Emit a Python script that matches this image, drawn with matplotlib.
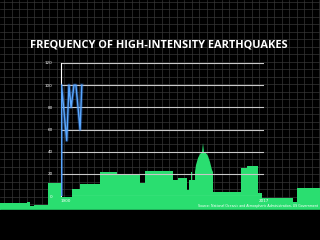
import numpy as np
import matplotlib
matplotlib.use("Agg")
from matplotlib import pyplot as plt

# chart data (blue series, first years only)
years = [1900.3, 1900.3, 1903.3, 1904.6, 1905.8, 1907.5, 1908.6, 1911, 1912]
quakes = [0, 100, 50, 100, 80, 100, 100, 60, 100]
y_ticks = [0, 20, 40, 60, 80, 100, 120]
x_labels = ["1900", "2017"]
x_range = [1900, 2017]

# decorative skyline (pixel columns / tops of the silhouette)
sky_x = [0, 27, 27, 30, 30, 34, 34, 48, 48, 62, 62, 72, 72, 80, 80, 100, 100, 117,
         117, 140, 140, 145, 145, 173, 173, 178, 178, 187, 187, 189, 189, 191, 191,
         192, 192, 195, 195, 196, 198, 200, 202, 203, 204, 206, 208, 210, 212, 213,
         213, 241, 241, 247, 247, 258, 258, 262, 262, 293, 293, 297, 297, 320]
sky_y = [203, 203, 202, 202, 206, 206, 205, 205, 183, 183, 197, 197, 189, 189, 184,
         184, 172, 172, 175, 175, 183, 183, 171, 171, 180, 180, 178, 178, 190, 190,
         180, 180, 172, 172, 180, 180, 172, 165, 158, 154, 152, 143, 152, 153, 156,
         162, 170, 172, 192, 192, 168, 168, 166, 166, 193, 193, 198, 198, 202, 202,
         188, 188]

fig = plt.figure(figsize=(3.2, 2.4), dpi=100, facecolor="black")

bg = fig.add_axes([0, 0, 1, 1])
bg.set_xlim(0, 320)
bg.set_ylim(240, 0)
bg.set_facecolor("black")
bg.axis("off")
for gx in np.arange(4, 320, 7.5):
    bg.axvline(gx, color="#363636", lw=0.5, zorder=1)
for gy in np.arange(1.7, 210, 7.5):
    bg.axhline(gy, color="#363636", lw=0.5, zorder=1)
bg.fill(sky_x + [320, 0], sky_y + [210, 210], color="#2ade70", lw=0, zorder=2)
bg.axhspan(210, 240, color="black", zorder=3)

bg.text(159, 45, "FREQUENCY OF HIGH-INTENSITY EARTHQUAKES", color="white",
        fontsize=7.9, fontweight="bold", family="Open Sans", ha="center", va="center")
bg.text(318, 206, "Source: National Oceanic and Atmospheric Administration, US Government",
        color="white", fontsize=2.3, ha="right", va="center")

ax = fig.add_axes([61 / 320, 44 / 240, 203 / 320, 133 / 240])
ax.patch.set_alpha(0)
ax.set_xlim(x_range)
ax.set_ylim(0, 120)
for s in ["top", "right", "bottom"]:
    ax.spines[s].set_visible(False)
ax.spines["left"].set_color("white")
ax.spines["left"].set_linewidth(0.8)
for t in y_ticks[1:]:
    ax.axhline(t, color="#c8c8c8", lw=0.8, zorder=1)
ax.axhline(0, color="#d8f5e0", lw=0.8, zorder=1)
ax.set_yticks(y_ticks)
ax.set_yticklabels([str(t) for t in y_ticks])
ax.tick_params(axis="y", length=0, pad=6, labelsize=3, colors="white")
ax.set_xticks(x_range)
ax.set_xticklabels(x_labels)
ax.tick_params(axis="x", length=0, pad=2, labelsize=3, colors="white")
ax.get_xticklabels()[0].set_ha("left")

ax.plot(years, quakes, color="#3a8cff", lw=2.4, alpha=0.35, zorder=3)
ax.plot(years, quakes, color="#5aa8ff", lw=1.0, zorder=4)

fig.savefig("out.png", dpi=100, facecolor="black")
